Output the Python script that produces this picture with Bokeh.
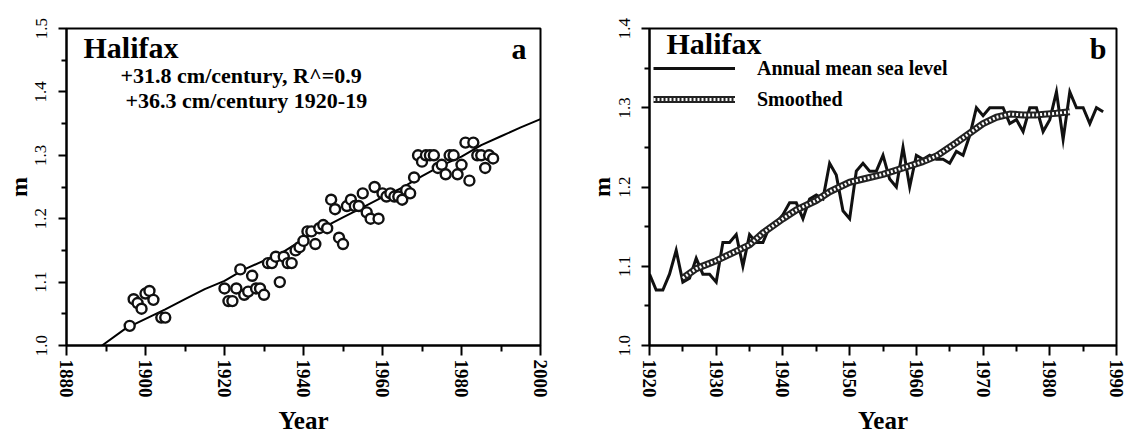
from bokeh.plotting import figure
from bokeh.layouts import row
from bokeh.models import FixedTicker, PrintfTickFormatter, Label, Legend, LegendItem
from bokeh.embed import file_html
from bokeh.resources import INLINE

# ---------------- data ----------------
early_years = [1896, 1897, 1898, 1899, 1900, 1901, 1902, 1904, 1905]
early_msl = [1.031, 1.073, 1.067, 1.058, 1.082, 1.086, 1.072, 1.044, 1.044]

annual_years = list(range(1920, 1989))
annual_msl = [
    1.09, 1.07, 1.07, 1.09, 1.12, 1.08, 1.085, 1.11, 1.09, 1.09,
    1.08, 1.13, 1.13, 1.14, 1.10, 1.14, 1.13, 1.13, 1.15, 1.155,
    1.165, 1.18, 1.18, 1.16, 1.185, 1.19, 1.185, 1.23, 1.215, 1.17,
    1.16, 1.22, 1.23, 1.22, 1.22, 1.24, 1.21, 1.20, 1.25, 1.20,
    1.24, 1.235, 1.24, 1.235, 1.235, 1.23, 1.245, 1.24, 1.265, 1.30,
    1.29, 1.30, 1.30, 1.30, 1.28, 1.285, 1.27, 1.30, 1.30, 1.27,
    1.285, 1.32, 1.26, 1.32, 1.30, 1.30, 1.28, 1.30, 1.295,
]

fit_years = [1889, 1895, 1900, 1905, 1910, 1915, 1920, 1925, 1930, 1935, 1940, 1945,
             1950, 1955, 1960, 1965, 1970, 1975, 1980, 1985, 1990, 1995, 2000]
fit_msl = [1.000, 1.027, 1.042, 1.057, 1.073, 1.089, 1.102, 1.120, 1.134, 1.148, 1.168, 1.186,
           1.202, 1.218, 1.234, 1.249, 1.267, 1.284, 1.298, 1.316, 1.330, 1.344, 1.357]

smooth_years = [1925, 1927, 1930, 1932, 1935, 1937, 1940, 1942, 1945, 1947, 1950, 1953,
                1955, 1958, 1961, 1963, 1966, 1968, 1970, 1972, 1974, 1976, 1978, 1981, 1983]
smooth_msl = [1.085, 1.097, 1.107, 1.115, 1.127, 1.142, 1.160, 1.171, 1.183, 1.194, 1.206, 1.212,
              1.216, 1.224, 1.232, 1.239, 1.256, 1.268, 1.280, 1.288, 1.292, 1.291, 1.291, 1.293, 1.295]

a_xticks = [1880, 1900, 1920, 1940, 1960, 1980, 2000]
a_xminor = [1890, 1910, 1930, 1950, 1970, 1990]
a_yticks = [1.0, 1.1, 1.2, 1.3, 1.4, 1.5]
a_yminor = [1.05, 1.15, 1.25, 1.35, 1.45]

b_xticks = [1920, 1930, 1940, 1950, 1960, 1970, 1980, 1990]
b_xminor = [1925, 1935, 1945, 1955, 1965, 1975, 1985]
b_yticks = [1.0, 1.1, 1.2, 1.3, 1.4]
b_yminor = [1.05, 1.15, 1.25, 1.35]

station = "Halifax"
trend_text_1 = "+31.8 cm/century, R^=0.9"
trend_text_2 = "+36.3 cm/century 1920-19"

SERIF = "Liberation Serif"


def style(p, xt, xm, yt, ym):
    p.grid.visible = False
    p.outline_line_color = "black"
    p.outline_line_width = 2
    p.xaxis.ticker = FixedTicker(ticks=xt, minor_ticks=xm)
    p.yaxis.ticker = FixedTicker(ticks=yt, minor_ticks=ym)
    p.xaxis.formatter = PrintfTickFormatter(format="%d")
    p.yaxis.formatter = PrintfTickFormatter(format="%.1f")
    for ax in (p.xaxis, p.yaxis):
        ax.axis_line_width = 2
        ax.axis_line_color = "black"
        ax.major_tick_line_color = "black"
        ax.minor_tick_line_color = "black"
        ax.major_tick_line_width = 2
        ax.minor_tick_line_width = 2
        ax.major_tick_in = 0
        ax.minor_tick_in = 0
        ax.major_label_text_color = "black"
        ax.major_label_text_font = SERIF
        ax.axis_label_text_color = "black"
        ax.axis_label_text_font = SERIF
        ax.axis_label_text_font_style = "bold"
    p.xaxis.major_tick_out = 10
    p.xaxis.minor_tick_out = 6
    p.yaxis.major_tick_out = 8
    p.yaxis.minor_tick_out = 5
    p.xaxis.major_label_orientation = "vertical"
    p.xaxis.major_label_text_font_size = "19px"
    p.xaxis.major_label_text_font_style = "bold"
    p.xaxis.major_label_standoff = 4
    p.yaxis.major_label_orientation = "parallel"
    p.yaxis.major_label_text_font_size = "17px"
    p.yaxis.major_label_standoff = 12
    p.xaxis.axis_label = "Year"
    p.xaxis.axis_label_text_font_size = "25px"
    p.xaxis.axis_label_standoff = 6
    p.yaxis.axis_label = "m"
    p.yaxis.axis_label_text_font_size = "24px"
    p.yaxis.axis_label_standoff = 1


def label(p, text, x, y, size, align="left"):
    p.add_layout(Label(x=x, y=y, x_units="screen", y_units="screen", text=text,
                       text_font=SERIF, text_font_size=size, text_font_style="bold",
                       text_color="black", text_align=align, text_baseline="alphabetic"))


# ---------------- panel a ----------------
p1 = figure(width=570, height=436, x_range=(1880, 2000), y_range=(1.0, 1.5),
            output_backend="svg", toolbar_location=None,
            min_border_left=66, min_border_right=30, min_border_top=28, min_border_bottom=88)
style(p1, a_xticks, a_xminor, a_yticks, a_yminor)
p1.line(fit_years, fit_msl, line_color="black", line_width=2)
p1.scatter(early_years + annual_years, early_msl + annual_msl, marker="circle", size=10,
           fill_color="white", line_color="#111111", line_width=2.4)
label(p1, station, 17, 298, "30px")
label(p1, "a", 460, 297, "30px", "right")
label(p1, trend_text_1, 54, 270, "22px")
label(p1, trend_text_2, 59, 245, "22px")

# ---------------- panel b ----------------
p2 = figure(width=558, height=436, x_range=(1920, 1990), y_range=(1.0, 1.4),
            output_backend="svg", toolbar_location=None,
            min_border_left=79, min_border_right=12, min_border_top=23, min_border_bottom=89)
style(p2, b_xticks, b_xminor, b_yticks, b_yminor)
r_annual = p2.line(annual_years, annual_msl, line_color="#111111", line_width=3, line_join="miter")
r_s1 = p2.line(smooth_years, smooth_msl, line_color="#222222", line_width=7)
r_s2 = p2.line(smooth_years, smooth_msl, line_color="white", line_width=3, line_dash="2 2")
label(p2, station, 17, 302, "30px")
label(p2, "b", 457, 297, "30px", "right")

legend = Legend(items=[LegendItem(label="Annual mean sea level", renderers=[r_annual]),
                       LegendItem(label="Smoothed", renderers=[r_s1, r_s2])],
                location=(4, 234), orientation="vertical",
                glyph_width=82, glyph_height=24, label_height=24, spacing=7, padding=0,
                label_standoff=22, label_text_font=SERIF, label_text_font_size="20px",
                label_text_font_style="bold", label_text_color="black",
                background_fill_alpha=0, border_line_alpha=0)
p2.add_layout(legend, "center")

layout = row(p1, p2)
open("out.html", "w").write(file_html(layout, INLINE))
